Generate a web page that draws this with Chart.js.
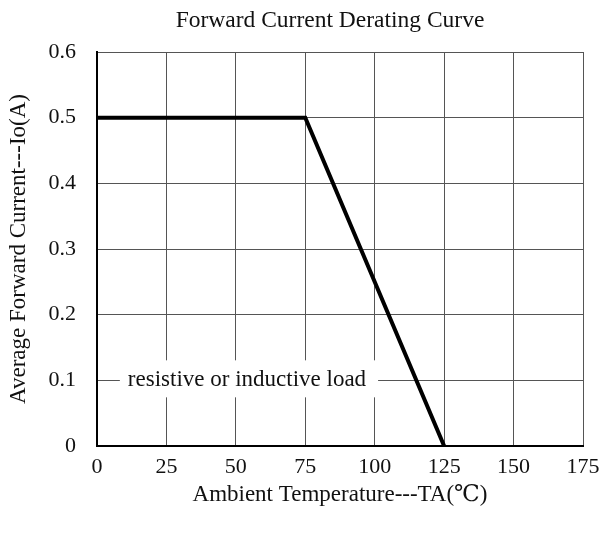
<!DOCTYPE html>
<html>
<head>
<meta charset="utf-8">
<script src="https://cdn.jsdelivr.net/npm/chart.js@4.4.1/dist/chart.umd.min.js"></script>
<style>
  html, body { margin: 0; padding: 0; background: #fff; }
  #wrap { width: 600px; height: 538px; }
</style>
</head>
<body>
<div id="wrap"><canvas id="chart"></canvas></div>
<script>
// derating curve break points
const temps = [0, 75, 125];
const current = [0.5, 0.5, 0];
const xTicks = [0, 25, 50, 75, 100, 125, 150, 175];
const yTicks = [0, 0.1, 0.2, 0.3, 0.4, 0.5, 0.6];

const FONT = "'Liberation Serif', 'DejaVu Serif', serif";

const titleAndNote = {
    id: 'titleAndNote',
    beforeDatasetsDraw(chart) {
        const {ctx, scales: {x, y}} = chart;
        ctx.save();
        ctx.font = "23px " + FONT;
        const label = 'resistive or inductive load';
        const cx = x.getPixelForValue(54);
        const cy = y.getPixelForValue(0.1);
        const w = ctx.measureText(label).width;
        ctx.fillStyle = '#fff';
        ctx.fillRect(cx - w / 2 - 8, cy - 20, w + 20, 37);
        ctx.fillStyle = '#111';
        ctx.textAlign = 'center';
        ctx.textBaseline = 'alphabetic';
        ctx.fillText(label, cx, cy + 6);
        ctx.restore();
    },
    afterDraw(chart) {
        const ctx = chart.ctx;
        ctx.save();
        ctx.font = "23.5px " + FONT;
        ctx.fillStyle = '#111';
        ctx.textAlign = 'center';
        ctx.textBaseline = 'middle';
        ctx.fillText('Forward Current Derating Curve', chart.width / 2 + 30, 21);
        ctx.restore();
    }
};

const ctx = document.getElementById('chart').getContext('2d');
new Chart(ctx, {
    type: 'line',
    data: {
        datasets: [{
            data: temps.map((t, i) => ({x: t, y: current[i]})),
            borderColor: '#000',
            borderWidth: 4,
            pointRadius: 0,
            tension: 0,
            fill: false
        }]
    },
    options: {
        responsive: true,
        maintainAspectRatio: false,
        animation: false,
        layout: { padding: { top: 52, right: 0, left: 0, bottom: 0 } },
        plugins: {
            legend: { display: false },
            tooltip: { enabled: false },
            title: { display: false }
        },
        scales: {
            x: {
                type: 'linear',
                min: 0,
                max: 175,
                afterBuildTicks: s => { s.ticks = xTicks.map(v => ({value: v})); },
                afterFit: s => { s.height = 92; s.paddingRight = 17; },
                grid: { color: '#555', lineWidth: 1, drawTicks: false },
                border: { color: '#000', width: 2 },
                ticks: { color: '#111', font: { family: FONT, size: 22 }, padding: 8, maxRotation: 0 },
                title: {
                    display: true,
                    text: 'Ambient Temperature---TA(℃)',
                    color: '#111',
                    font: { family: FONT, size: 23 },
                    padding: { top: 0, bottom: 29 }
                }
            },
            y: {
                min: 0,
                max: 0.6,
                afterBuildTicks: s => { s.ticks = yTicks.map(v => ({value: v})); },
                afterFit: s => { s.width = 97; },
                grid: { color: '#555', lineWidth: 1, drawTicks: false },
                border: { color: '#000', width: 2 },
                ticks: {
                    color: '#111',
                    font: { family: FONT, size: 22 },
                    padding: 21,
                    callback: v => v === 0 ? '0' : v.toFixed(1)
                },
                title: {
                    display: true,
                    text: 'Average Forward Current---Io(A)',
                    color: '#111',
                    font: { family: FONT, size: 23 },
                    padding: { top: 5, bottom: 0 }
                }
            }
        }
    },
    plugins: [titleAndNote]
});
</script>
</body>
</html>
